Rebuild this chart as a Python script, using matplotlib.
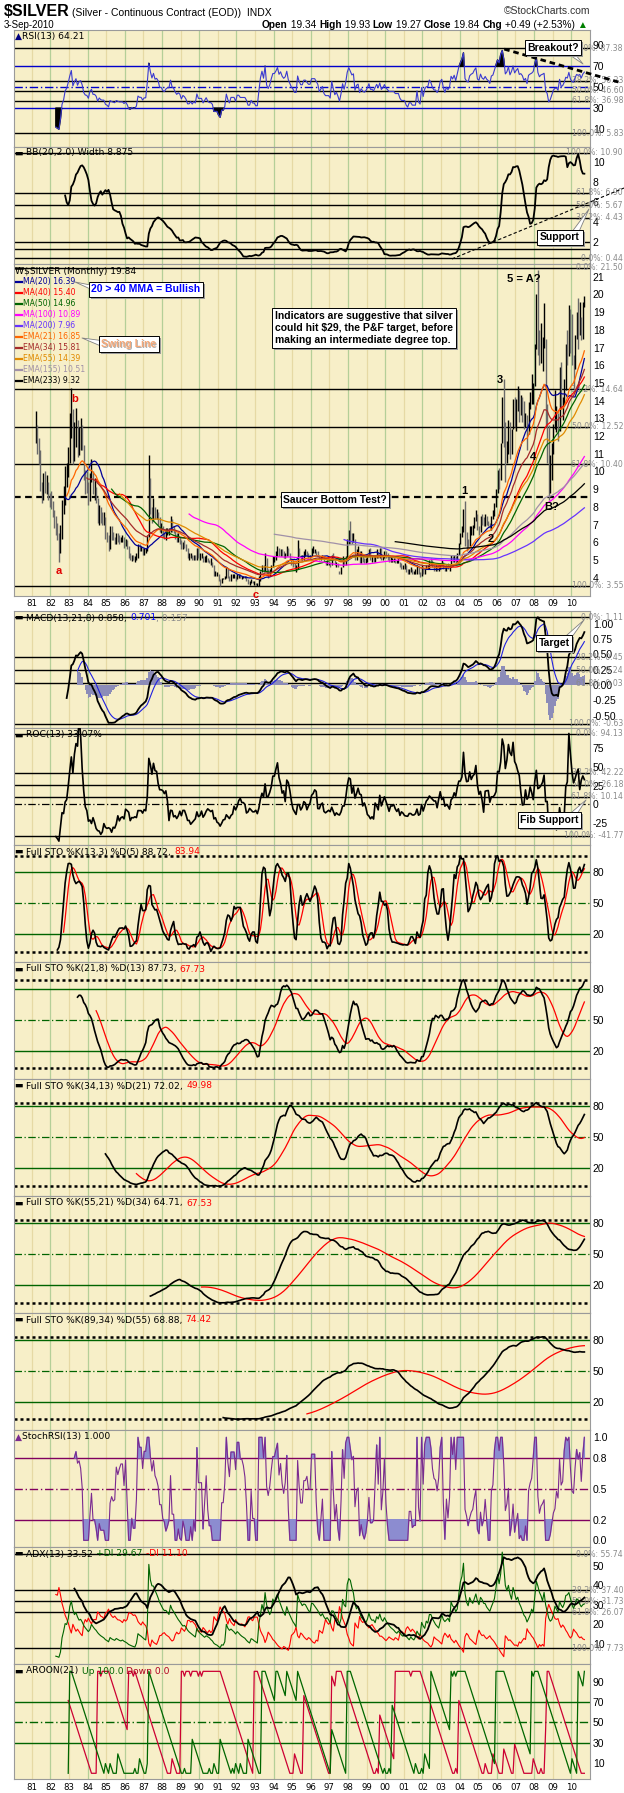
import numpy as np
import pandas as pd
import matplotlib
matplotlib.use("Agg")
import matplotlib.pyplot as plt
from matplotlib.transforms import blended_transform_factory

W, H = 624, 1793
NARROW = ["Liberation Sans Narrow", "Liberation Sans", "DejaVu Sans"]
plt.rcParams["font.family"] = ["DejaVu Sans"]

# monthly bars for $SILVER, Mar 1981 .. Sep 2010
closes = [
    12.05, 11.55, 10.95, 9.10, 8.75, 9.45, 9.20, 9.30, 8.65, 8.35,
    8.20, 7.60, 7.00, 6.90, 6.30, 5.60, 6.40, 7.80, 8.30, 9.50, 9.90, 10.80,
    12.10, 13.40, 10.80, 11.70, 12.50, 11.20, 12.10, 12.30, 11.50, 9.80, 9.20, 9.10,
    8.40, 9.60, 10.00, 8.90, 8.90, 8.50, 7.30, 7.80, 7.40, 7.30, 7.30, 6.40,
    6.20, 5.80, 6.50, 6.30, 6.20, 6.10, 6.30, 6.20, 6.10, 6.10, 6.10, 5.90,
    6.00, 5.70, 5.20, 5.10, 5.20, 5.10, 5.10, 5.20, 5.70, 5.60, 5.60, 5.40,
    5.50, 5.50, 6.30, 8.40, 7.80, 7.30, 7.90, 7.40, 7.50, 7.30, 6.70, 6.70,
    6.40, 6.30, 6.50, 6.60, 6.60, 7.20, 6.70, 6.60, 6.30, 6.10, 6.20, 6.10,
    5.70, 5.90, 5.80, 5.60, 5.20, 5.20, 5.30, 5.10, 5.20, 5.10, 5.50, 5.20,
    5.20, 5.20, 4.90, 5.00, 5.10, 4.90, 4.80, 4.80, 4.70, 4.20, 4.20, 4.20,
    3.90, 3.70, 3.90, 3.90, 4.00, 4.40, 4.10, 3.90, 4.10, 4.10, 4.10, 3.90,
    4.10, 4.10, 4.00, 4.00, 4.00, 4.00, 3.90, 3.70, 3.70, 3.80, 3.70, 3.70,
    3.60, 3.60, 3.90, 4.30, 4.60, 4.40, 5.10, 4.30, 4.10, 4.30, 4.70, 5.10,
    5.10, 5.30, 5.60, 5.30, 5.50, 5.30, 5.20, 5.30, 5.70, 5.30, 5.10, 4.90,
    4.80, 4.60, 4.60, 5.60, 5.30, 5.10, 5.10, 5.40, 5.40, 5.30, 5.20, 5.20,
    5.50, 5.50, 5.50, 5.40, 5.30, 5.00, 5.10, 5.20, 4.90, 4.80, 4.80, 4.80,
    4.70, 5.30, 5.00, 4.70, 4.80, 4.60, 4.30, 4.60, 5.10, 4.80, 5.20, 6.00,
    6.50, 6.30, 6.10, 6.20, 5.10, 5.50, 5.60, 4.90, 5.20, 5.00, 4.90, 5.00,
    5.20, 5.50, 5.10, 5.10, 5.00, 5.20, 5.40, 5.20, 5.50, 5.10, 5.20, 5.40,
    5.20, 5.10, 5.00, 5.00, 5.00, 5.00, 4.90, 4.90, 4.90, 4.70, 4.60, 4.60,
    4.60, 4.40, 4.30, 4.40, 4.40, 4.30, 4.30, 4.30, 4.60, 4.20, 4.10, 4.60,
    4.20, 4.50, 4.60, 4.60, 4.90, 4.80, 4.60, 4.50, 4.50, 4.40, 4.50, 4.80,
    4.90, 4.60, 4.40, 4.60, 4.50, 4.60, 5.10, 5.00, 5.20, 5.00, 5.40, 5.90,
    6.30, 6.70, 7.80, 6.20, 6.00, 5.90, 6.60, 6.80, 6.90, 7.30, 7.60, 6.80,
    6.70, 7.40, 7.10, 7.00, 7.30, 7.10, 7.00, 6.80, 7.50, 7.60, 8.20, 8.90,
    9.80, 9.60, 11.60, 13.30, 12.50, 10.80, 11.30, 12.60, 11.50, 12.40, 13.90, 12.90,
    13.60, 14.20, 13.30, 13.50, 13.20, 12.50, 12.90, 12.10, 13.90, 14.20, 14.40, 14.80,
    16.90, 19.80, 17.20, 16.30, 16.90, 17.10, 17.40, 13.40, 12.60, 9.50, 10.10, 11.30,
    12.50, 13.00, 13.10, 12.50, 15.60, 13.60, 13.90, 14.90, 16.60, 16.40, 18.50, 16.90,
    16.20, 16.10, 17.50, 18.60, 18.40, 18.70, 18.00, 19.20, 19.84,
]
highs = [
    13.40, 12.60, 11.90, 11.20, 9.40, 9.90, 10.00, 9.80, 9.40, 8.80,
    8.90, 8.30, 7.80, 7.50, 7.10, 6.50, 7.00, 8.40, 9.20, 10.30, 10.50, 11.40,
    13.30, 14.70, 13.50, 12.80, 13.60, 12.90, 12.50, 13.00, 12.60, 11.50, 10.10, 10.00,
    9.40, 9.90, 10.70, 10.00, 9.60, 9.10, 8.50, 8.10, 8.00, 7.70, 7.70, 7.40,
    6.60, 6.40, 6.90, 6.90, 6.60, 6.30, 6.50, 6.50, 6.40, 6.30, 6.40, 6.30,
    6.20, 6.10, 5.80, 5.40, 5.30, 5.30, 5.20, 5.40, 5.90, 5.90, 5.80, 5.70,
    5.70, 5.70, 6.40, 10.90, 9.60, 8.00, 8.50, 8.00, 7.90, 7.70, 7.40, 7.10,
    6.90, 6.60, 6.80, 6.80, 6.80, 7.50, 7.30, 6.90, 6.70, 6.50, 6.50, 6.30,
    6.10, 6.00, 6.10, 5.90, 5.70, 5.40, 5.40, 5.30, 5.30, 5.30, 5.70, 5.70,
    5.40, 5.40, 5.20, 5.20, 5.30, 5.10, 5.00, 5.10, 4.90, 4.70, 4.40, 4.30,
    4.20, 3.90, 4.00, 4.00, 4.10, 4.60, 4.50, 4.10, 4.20, 4.20, 4.20, 4.10,
    4.20, 4.20, 4.20, 4.10, 4.10, 4.10, 4.10, 3.90, 3.80, 3.90, 3.80, 3.80,
    3.70, 3.70, 4.10, 4.40, 4.70, 4.70, 5.40, 5.10, 4.50, 4.50, 4.70, 5.20,
    5.20, 5.50, 5.80, 5.70, 5.60, 5.60, 5.50, 5.40, 5.80, 5.70, 5.40, 5.10,
    5.00, 4.80, 4.70, 6.10, 5.70, 5.30, 5.30, 5.50, 5.60, 5.50, 5.40, 5.30,
    5.70, 5.80, 5.60, 5.50, 5.50, 5.30, 5.20, 5.30, 5.20, 4.90, 5.00, 4.90,
    4.90, 5.30, 5.40, 5.00, 4.90, 4.80, 4.40, 4.60, 5.20, 5.10, 5.20, 6.20,
    6.70, 7.20, 6.50, 6.50, 6.20, 5.60, 5.80, 5.50, 5.50, 5.20, 5.10, 5.10,
    5.30, 5.60, 5.70, 5.20, 5.30, 5.30, 5.60, 5.40, 5.70, 5.70, 5.30, 5.50,
    5.50, 5.40, 5.20, 5.20, 5.10, 5.10, 5.10, 5.00, 5.10, 4.90, 4.80, 4.70,
    4.80, 4.70, 4.50, 4.50, 4.60, 4.50, 4.40, 4.50, 4.70, 4.60, 4.30, 4.70,
    4.60, 4.50, 4.70, 4.70, 5.00, 5.10, 5.00, 4.70, 4.70, 4.60, 4.60, 4.80,
    5.00, 4.90, 4.60, 4.70, 4.80, 4.70, 5.30, 5.20, 5.30, 5.20, 5.40, 5.96,
    6.50, 6.90, 7.90, 8.30, 6.60, 6.20, 6.90, 6.90, 7.00, 7.40, 7.80, 7.60,
    6.90, 7.50, 7.60, 7.40, 7.60, 7.50, 7.20, 7.10, 7.50, 7.80, 8.20, 9.00,
    10.10, 10.20, 11.60, 14.20, 15.20, 12.80, 11.70, 12.90, 12.80, 12.40, 14.10, 14.20,
    14.10, 14.80, 14.60, 14.30, 14.20, 14.00, 13.30, 13.20, 13.90, 14.50, 15.50, 15.00,
    17.20, 20.00, 21.40, 18.00, 18.40, 17.60, 19.50, 17.50, 13.80, 12.60, 10.90, 11.60,
    12.70, 14.60, 13.70, 13.30, 15.90, 16.20, 14.20, 15.20, 17.20, 18.00, 19.40, 19.20,
    18.90, 16.60, 17.70, 19.00, 19.80, 19.60, 18.70, 19.60, 19.93,
]
lows = [
    11.60, 11.00, 10.40, 8.90, 8.20, 8.40, 8.80, 8.70, 8.40, 8.00,
    7.90, 7.40, 6.80, 6.40, 6.10, 4.90, 5.40, 6.20, 7.60, 8.10, 9.10, 9.70,
    10.50, 11.90, 10.40, 10.60, 11.40, 10.80, 10.90, 11.20, 11.20, 9.50, 8.70, 8.80,
    8.10, 8.30, 9.40, 8.70, 8.40, 8.20, 7.10, 7.00, 7.10, 7.00, 7.00, 6.20,
    6.00, 5.50, 5.60, 6.10, 6.10, 5.90, 5.90, 6.00, 5.90, 6.00, 6.00, 5.70,
    5.80, 5.60, 5.10, 5.00, 4.95, 5.00, 4.90, 5.00, 5.10, 5.50, 5.50, 5.30,
    5.30, 5.40, 5.50, 6.30, 7.60, 7.10, 7.20, 7.30, 7.30, 7.00, 6.60, 6.50,
    6.30, 6.20, 6.10, 6.40, 6.40, 6.60, 6.60, 6.50, 6.20, 6.00, 6.00, 5.90,
    5.60, 5.60, 5.70, 5.50, 5.10, 5.00, 5.10, 5.00, 5.00, 5.00, 5.00, 5.10,
    5.00, 5.10, 4.90, 4.90, 4.90, 4.90, 4.80, 4.70, 4.60, 4.10, 4.10, 4.10,
    3.80, 3.55, 3.70, 3.90, 3.90, 4.00, 4.00, 3.80, 3.80, 4.00, 4.00, 3.80,
    3.90, 4.00, 3.95, 3.90, 3.95, 3.95, 3.80, 3.65, 3.60, 3.70, 3.70, 3.60,
    3.56, 3.52, 3.55, 3.80, 4.30, 4.30, 4.40, 4.20, 3.95, 4.10, 4.30, 4.60,
    4.90, 5.00, 5.20, 5.20, 5.20, 5.20, 5.10, 5.10, 5.20, 5.20, 5.00, 4.70,
    4.60, 4.50, 4.30, 4.50, 5.20, 5.00, 5.00, 5.00, 5.20, 5.20, 5.10, 5.10,
    5.20, 5.40, 5.40, 5.30, 5.30, 5.00, 5.00, 5.10, 4.90, 4.70, 4.70, 4.70,
    4.60, 4.70, 5.00, 4.70, 4.60, 4.60, 4.20, 4.20, 4.60, 4.70, 4.70, 5.00,
    5.90, 5.90, 5.90, 6.00, 5.00, 5.00, 5.40, 4.80, 4.80, 4.90, 4.80, 4.80,
    4.90, 5.20, 5.00, 4.90, 4.90, 4.90, 5.10, 5.10, 5.10, 5.00, 5.00, 5.10,
    5.10, 5.00, 4.90, 4.90, 4.90, 4.90, 4.80, 4.80, 4.80, 4.60, 4.50, 4.50,
    4.50, 4.30, 4.20, 4.20, 4.30, 4.20, 4.20, 4.20, 4.20, 4.20, 4.05, 4.10,
    4.20, 4.20, 4.50, 4.50, 4.50, 4.70, 4.60, 4.40, 4.40, 4.40, 4.40, 4.50,
    4.70, 4.50, 4.40, 4.40, 4.50, 4.40, 4.60, 4.90, 4.90, 4.80, 4.90, 5.30,
    5.90, 6.30, 6.60, 5.80, 5.50, 5.70, 5.80, 6.40, 6.40, 6.80, 7.20, 6.70,
    6.40, 6.60, 7.00, 6.90, 6.90, 7.00, 6.90, 6.80, 6.70, 7.30, 7.50, 8.00,
    8.80, 9.00, 9.50, 11.60, 11.40, 9.40, 10.50, 11.00, 10.70, 11.00, 12.40, 12.50,
    12.30, 13.40, 12.80, 13.20, 12.80, 12.40, 12.50, 11.20, 12.10, 13.50, 13.80, 13.80,
    14.80, 16.90, 16.60, 16.00, 16.10, 15.70, 17.00, 12.50, 10.50, 8.40, 8.80, 9.50,
    11.00, 12.40, 12.20, 11.70, 12.30, 13.50, 12.90, 13.70, 14.60, 16.00, 16.50, 16.70,
    16.00, 14.70, 15.80, 17.50, 16.90, 17.70, 17.40, 17.50, 19.27,
]

year_ticks = list(range(1981, 2011))
year_labels = ["81", "82", "83", "84", "85", "86", "87", "88", "89", "90",
               "91", "92", "93", "94", "95", "96", "97", "98", "99", "00",
               "01", "02", "03", "04", "05", "06", "07", "08", "09", "10"]

rsi_fibs = [("0.0%", 87.38), ("38.2%", 56.23), ("50.0%", 46.60), ("61.8%", 36.98), ("100.0%", 5.83)]
bbw_fibs = [("100.0%", 10.90), ("61.8%", 6.90), ("50.0%", 5.67), ("38.2%", 4.43), ("0.0%", 0.44)]
price_fibs = [("0.0%", 21.50), ("38.2%", 14.64), ("50.0%", 12.52), ("61.8%", 10.40), ("100.0%", 3.55)]
macd_fibs = [("0.0%", 1.11), ("38.2%", 0.45), ("50.0%", 0.24), ("61.8%", 0.03), ("100.0%", -0.63)]
roc_fibs = [("0.0%", 94.13), ("38.2%", 42.22), ("50.0%", 26.18), ("61.8%", 10.14), ("100.0%", -41.77)]
adx_fibs = [("0.0%", 55.74), ("38.2%", 37.40), ("50.0%", 31.73), ("61.8%", 26.07), ("100.0%", 7.73)]

ma_periods = [20, 40, 50, 100, 200]
ema_periods = [21, 34, 55, 155, 233]
ma_legend = ["MA(20) 16.39", "MA(40) 15.40", "MA(50) 14.96", "MA(100) 10.89", "MA(200) 7.96",
             "EMA(21) 16.85", "EMA(34) 15.81", "EMA(55) 14.39", "EMA(155) 10.51", "EMA(233) 9.32"]
ma_colors = ["#000099", "#ff0000", "#006400", "#ff00ff", "#6633ff",
             "#ff6600", "#a52a2a", "#e08a00", "#a090a8", "#000000"]

sto_params = [(13, 3, 5), (21, 8, 13), (34, 13, 21), (55, 21, 34), (89, 34, 55)]
sto_values = [("88.72", "83.94"), ("87.73", "67.73"), ("72.02", "49.98"),
              ("64.71", "67.53"), ("68.88", "74.42")]


# ---------- indicator helpers ----------
def sma(x, n):
    return pd.Series(x).rolling(n).mean().to_numpy()


def smooth(x, n, k):
    x = np.asarray(x, float)
    out = np.full(len(x), np.nan)
    idx = np.where(~np.isnan(x))[0]
    if len(idx) < n:
        return out
    s = idx[0]
    out[s + n - 1] = np.mean(x[s:s + n])
    for i in range(s + n, len(x)):
        out[i] = x[i] * k + out[i - 1] * (1 - k)
    return out


def ema(x, n):
    return smooth(x, n, 2.0 / (n + 1))


def wilder(x, n):
    return smooth(x, n, 1.0 / n)


def rsi(c, n):
    d = np.diff(c, prepend=np.nan)
    up = np.where(d > 0, d, 0.0)
    dn = np.where(d < 0, -d, 0.0)
    up[0] = dn[0] = np.nan
    with np.errstate(divide="ignore", invalid="ignore"):
        return 100 - 100 / (1 + wilder(up, n) / wilder(dn, n))


def full_sto(h, l, c, k, s, d):
    hh = pd.Series(h).rolling(k).max()
    ll = pd.Series(l).rolling(k).min()
    raw = 100 * (pd.Series(c) - ll) / (hh - ll)
    fk = raw.rolling(s).mean()
    fd = fk.rolling(d).mean()
    return fk.to_numpy(), fd.to_numpy()


def adx(h, l, c, n):
    pc = np.r_[np.nan, c[:-1]]
    ph = np.r_[np.nan, h[:-1]]
    pl = np.r_[np.nan, l[:-1]]
    tr = np.nanmax(np.vstack([h - l, np.abs(h - pc), np.abs(l - pc)]), axis=0)
    up = h - ph
    dn = pl - l
    pdm = np.where((up > dn) & (up > 0), up, 0.0)
    mdm = np.where((dn > up) & (dn > 0), dn, 0.0)
    tr[0] = pdm[0] = mdm[0] = np.nan
    atr = wilder(tr, n)
    pdi = 100 * wilder(pdm, n) / atr
    mdi = 100 * wilder(mdm, n) / atr
    dx = 100 * np.abs(pdi - mdi) / (pdi + mdi)
    return wilder(dx, n), pdi, mdi


def aroon(h, l, n):
    up = np.full(len(h), np.nan)
    dn = np.full(len(h), np.nan)
    for i in range(n, len(h)):
        wh = h[i - n:i + 1][::-1]
        wl = l[i - n:i + 1][::-1]
        up[i] = 100.0 * (n - np.argmax(wh)) / n
        dn[i] = 100.0 * (n - np.argmin(wl)) / n
    return up, dn


c = np.array(closes)
h = np.array(highs)
l = np.array(lows)
t = 1981 + (2 + np.arange(len(c)) + 0.5) / 12

rsi13 = rsi(c, 13)
bbw = 4 * pd.Series(c).rolling(20).std(ddof=0).to_numpy()
macd = ema(c, 13) - ema(c, 21)
macd_sig = ema(macd, 8)
macd_hist = macd - macd_sig
roc13 = 100 * (c / np.r_[np.full(13, np.nan), c[:-13]] - 1)
rr = pd.Series(rsi13)
srsi = ((rr - rr.rolling(13).min()) / (rr.rolling(13).max() - rr.rolling(13).min())).to_numpy()
adx13, pdi13, mdi13 = adx(h, l, c, 13)
aup, adn = aroon(h, l, 21)

# ---------- figure / layout ----------
fig = plt.figure(figsize=(W / 100, H / 100), dpi=100)
fig.patch.set_facecolor("white")
LPX, RPX = 14, 590


def yr2px(y):
    return 31.8 + 18.6 * (y - 1981)


X0 = 1981 + (LPX - 31.8) / 18.6
X1 = 1981 + (RPX - 31.8) / 18.6
BG = "#f7efc8"


def panel(top, bot, ylim, ticks, labels):
    ax = fig.add_axes([LPX / W, 1 - bot / H, (RPX - LPX) / W, (bot - top) / H])
    ax.set_xlim(X0, X1)
    ax.set_ylim(*ylim)
    ax.set_facecolor(BG)
    for yr in year_ticks:
        ax.axvline(yr, color="#b4cf98" if yr % 2 == 0 else "#e6d9a4", lw=0.9, zorder=0)
    ax.set_xticks([])
    ax.yaxis.tick_right()
    ax.set_yticks(ticks)
    ax.set_yticklabels(labels)
    ax.tick_params(axis="y", length=0, pad=2, labelsize=7.5, labelfontfamily=NARROW)
    for s in ax.spines.values():
        s.set_color("#9a9a9a")
        s.set_linewidth(0.8)
    return ax


def fibs(ax, levels):
    tr = blended_transform_factory(fig.transFigure, ax.transData)
    for pct, v in levels:
        ax.axhline(v, color="black", lw=1.0, zorder=1)
        ax.text(623 / W, v, f"{pct}: {v:.2f}", transform=tr, ha="right", va="center",
                fontsize=5.6, color="#8a8a8a", clip_on=False)


ax_rsi = panel(30, 147, (-7.3, 104.8), [90, 70, 50, 30, 10], ["90", "70", "50", "30", "10"])
ax_bbw = panel(147, 264, (-0.15, 11.46), [10, 8, 6, 4, 2], ["10", "8", "6", "4", "2"])
ax_px = panel(264, 596, (2.96, 21.72), list(range(4, 22)), [str(v) for v in range(4, 22)])
ax_macd = panel(611, 728, (-0.703, 1.209), [1.0, 0.75, 0.5, 0.25, 0.0, -0.25, -0.5],
                ["1.00", "0.75", "0.50", "0.25", "0.00", "-0.25", "-0.50"])
ax_roc = panel(728, 845, (-54, 102), [75, 50, 25, 0, -25], ["75", "50", "25", "0", "-25"])
sto_axes = [panel(845 + 117 * i, 962 + 117 * i, (-6.8, 106.4), [80, 50, 20], ["80", "50", "20"])
            for i in range(5)]
ax_srsi = panel(1430, 1547, (-0.065, 1.071), [1.0, 0.8, 0.5, 0.2, 0.0],
                ["1.0", "0.8", "0.5", "0.2", "0.0"])
ax_adx = panel(1547, 1664, (-0.29, 59.47), [50, 40, 30, 20, 10], ["50", "40", "30", "20", "10"])
ax_ar = panel(1664, 1779, (-5.6, 107.2), [90, 70, 50, 30, 10], ["90", "70", "50", "30", "10"])

# RSI
fibs(ax_rsi, rsi_fibs)
for v, ls in [(70, "-"), (30, "-"), (50, (0, (6, 2, 1, 2)))]:
    ax_rsi.axhline(v, color="#0000cc", lw=1.0, ls=ls, zorder=1)
ax_rsi.plot(t, rsi13, color="#3a3ad0", lw=0.8, zorder=3)
ax_rsi.fill_between(t, rsi13, 70, where=rsi13 >= 70, interpolate=True, color="black", zorder=2)
ax_rsi.fill_between(t, rsi13, 30, where=rsi13 <= 30, interpolate=True, color="black", zorder=2)
ax_rsi.plot([2006.4, 2012.73], [86.5, 54.0], color="black", lw=2.0, ls=(0, (2, 1.4)),
            clip_on=False, zorder=4)

# BB width
fibs(ax_bbw, bbw_fibs)
for v in (2.0, 1.35):
    ax_bbw.axhline(v, color="black", lw=1.0, zorder=1)
ax_bbw.plot(t, bbw, color="black", lw=1.3, zorder=3)
ax_bbw.plot([2003.59, 2012.84], [0.35, 7.39], color="black", lw=0.8, ls=(0, (3, 2)),
            clip_on=False, zorder=4)

# price
fibs(ax_px, price_fibs)
ax_px.axhline(8.55, color="black", lw=1.6, ls=(0, (3, 2)), zorder=1)
prev = np.r_[c[0], c[:-1]]
ax_px.vlines(t, l, h, colors=np.where(c >= prev, "#000000", "#6a6a6a"), lw=1.0, zorder=3)
for i, n in enumerate(ma_periods):
    ax_px.plot(t, sma(c, n), color=ma_colors[i], lw=0.9, zorder=4)
for i, n in enumerate(ema_periods):
    ax_px.plot(t, ema(c, n), color=ma_colors[5 + i], lw=0.9, zorder=4)

# MACD
fibs(ax_macd, macd_fibs)
ax_macd.bar(t, macd_hist, width=1 / 12, color="#8c8cb8", lw=0, zorder=2)
ax_macd.plot(t, macd_sig, color="#2020e0", lw=0.8, zorder=3)
ax_macd.plot(t, macd, color="black", lw=1.3, zorder=4)

# ROC
fibs(ax_roc, roc_fibs)
ax_roc.axhline(0, color="black", lw=0.9, ls=(0, (6, 2, 1, 2)), zorder=1)
ax_roc.plot(t, roc13, color="black", lw=1.2, zorder=3)

# full stochastics
for ax, (k, s, d) in zip(sto_axes, sto_params):
    fk, fd = full_sto(h, l, c, k, s, d)
    ax.axhline(80, color="#006400", lw=1.0, zorder=1)
    ax.axhline(20, color="#006400", lw=1.0, zorder=1)
    ax.axhline(50, color="#006400", lw=0.9, ls=(0, (6, 2, 1, 2)), zorder=1)
    hi = np.nanmax(np.r_[fk, fd])
    lo = np.nanmin(np.r_[fk, fd])
    ax.axhline(hi, color="black", lw=1.8, ls=(0, (1.2, 1.2)), zorder=1)
    ax.axhline(lo, color="black", lw=1.8, ls=(0, (1.2, 1.2)), zorder=1)
    ax.plot(t, fd, color="#ff0000", lw=0.9, zorder=3)
    ax.plot(t, fk, color="black", lw=1.2, zorder=4)

# StochRSI
for v, ls in [(0.8, "-"), (0.2, "-"), (0.5, (0, (6, 2, 1, 2)))]:
    ax_srsi.axhline(v, color="#800060", lw=1.0, ls=ls, zorder=1)
ax_srsi.fill_between(t, srsi, 0.8, where=srsi >= 0.8, interpolate=True, color="#8c8cd0", zorder=2)
ax_srsi.fill_between(t, srsi, 0.2, where=srsi <= 0.2, interpolate=True, color="#8c8cd0", zorder=2)
ax_srsi.plot(t, srsi, color="#7a2a90", lw=0.8, zorder=3)

# ADX
fibs(ax_adx, adx_fibs)
ax_adx.plot(t, mdi13, color="#ff0000", lw=0.8, zorder=3)
ax_adx.plot(t, pdi13, color="#006400", lw=0.8, zorder=3)
ax_adx.plot(t, adx13, color="black", lw=1.3, zorder=4)

# Aroon
for v, ls in [(70, "-"), (30, "-"), (50, (0, (6, 2, 1, 2)))]:
    ax_ar.axhline(v, color="#006400", lw=1.0, ls=ls, zorder=1)
ax_ar.plot(t, adn, color="#cc0033", lw=0.9, zorder=3)
ax_ar.plot(t, aup, color="#006600", lw=0.9, zorder=3)

# ---------- overlay for all text in pixel coords ----------
ov = fig.add_axes([0, 0, 1, 1], zorder=20)
ov.set_xlim(0, W)
ov.set_ylim(H, 0)
ov.axis("off")
ov.patch.set_visible(False)
rend = fig.canvas.get_renderer()


def parts_text(x, y, parts, size=6.6, family=None, right=False):
    texts = []
    for p in parts:
        s, col = p[0], p[1]
        wt = p[2] if len(p) > 2 else "normal"
        tx = ov.text(x, y, s, color=col, fontsize=size, ha="left", va="center",
                     fontweight=wt, family=family or ["DejaVu Sans"])
        texts.append(tx)
        x += tx.get_window_extent(rend).width
    if right:
        # shift the whole run so that it ends at the requested x
        shift = x - parts_start_right[0]
        for tx in texts:
            tx.set_x(tx.get_position()[0] - shift)
    return x


parts_start_right = [588]

# header
x = parts_text(4, 12, [("$SILVER", "black", "bold")], size=11.5, family=NARROW)
parts_text(x + 2, 13, [("(Silver - Continuous Contract (EOD))  INDX", "black")], size=7.5, family=NARROW)
ov.text(590, 11, "\u00a9StockCharts.com", ha="right", va="center", fontsize=7.5, family=NARROW,
        color="#333333")
ov.text(4, 25, "3-Sep-2010", ha="left", va="center", fontsize=7, family=NARROW)
parts_text(0, 25, [("Open", "black", "bold"), (" 19.34 ", "black"), ("High", "black", "bold"),
                   (" 19.93 ", "black"), ("Low", "black", "bold"), (" 19.27 ", "black"),
                   ("Close", "black", "bold"), (" 19.84 ", "black"), ("Chg", "black", "bold"),
                   (" +0.49 (+2.53%)", "black"), (" \u25b2", "#008000")],
           size=7.3, family=NARROW, right=True)


def callout(x, y, s, color="black", size=7.5, ha="center", tip=None, base=None):
    if tip is not None:
        ov.annotate("", xy=tip, xytext=base,
                    arrowprops=dict(arrowstyle="wedge,tail_width=0.45", fc="white",
                                    ec="#808080", lw=0.6, shrinkA=0, shrinkB=0))
    kw = dict(fontsize=size, ha=ha, va="center", fontweight="bold", family=NARROW,
              linespacing=1.25)
    ov.text(x + 2, y + 2, s, color="none",
            bbox=dict(fc="#9a9a9a", ec="none", boxstyle="square,pad=0.25"), **kw)
    ov.text(x, y, s, color=color,
            bbox=dict(fc="white", ec="black", lw=0.7, boxstyle="square,pad=0.25"), **kw)


# panel labels
parts_text(15, 36, [("\u25b2", "#000080"), ("RSI(13) 64.21", "black")])
parts_text(15, 153, [("\u25ac ", "black"), ("BB(20,2.0) Width 8.875", "black")])
parts_text(15, 271, [("\u20a9", "black"), ("$SILVER (Monthly) 19.84", "black")])
for i, (lab, col) in enumerate(zip(ma_legend, ma_colors)):
    yy = 281.7 + 11.03 * i
    ov.plot([16, 22], [yy, yy], color=col, lw=1.6)
    ov.text(23, yy, lab, color=col, fontsize=5.6, ha="left", va="center")
parts_text(15, 618, [("\u25ac ", "black"), ("MACD(13,21,8) 0.858, ", "black"), ("0.701", "#0000ff"),
                     (", 0.157", "#8a8a8a")])
parts_text(15, 735, [("\u25ac ", "black"), ("ROC(13) 33.07%", "black")])
for i, ((k, s, d), (kv, dv)) in enumerate(zip(sto_params, sto_values)):
    parts_text(15, 852 + 117 * i, [("\u25ac ", "black"),
                                   (f"Full STO %K({k},{s}) %D({d}) {kv}, ", "black"), (dv, "#ff0000")])
parts_text(15, 1437, [("\u25b2", "#7a2a90"), ("StochRSI(13) 1.000", "black")])
parts_text(15, 1554, [("\u25ac ", "black"), ("ADX(13) 33.52 ", "black"), ("+DI 29.67 ", "#006400"),
                      ("-DI 11.10", "#ff0000")])
parts_text(15, 1671, [("\u25ac ", "black"), ("AROON(21) ", "black"), ("Up 100.0 ", "#006400"),
                      ("Down 0.0", "#b00020")])

# x-axis year labels
for yr, lab in zip(year_ticks, year_labels):
    ov.text(yr2px(yr), 604, lab, ha="center", va="center", fontsize=6.2)
    ov.text(yr2px(yr), 1787, lab, ha="center", va="center", fontsize=6.2)

# wave labels on the price panel
for s, xx, yy, col in [("a", 58.7, 571, "#e00000"), ("b", 75, 399, "#e00000"), ("c", 256, 595, "#e00000"),
                       ("1", 464.7, 491, "black"), ("2", 491, 539, "black"), ("3", 499.7, 380, "black"),
                       ("4", 532.7, 457, "black"), ("5 = A?", 523.7, 278.5, "black"),
                       ("B?", 551.3, 507, "black")]:
    ov.text(xx, yy, s, color=col, fontsize=8, fontweight="bold", ha="center", va="center", family=NARROW)

# callout boxes
callout(146, 289.5, "20 > 40 MMA = Bullish", color="#0000ff", tip=(75, 282), base=(100, 290))
ov.annotate("", xy=(82, 338), xytext=(104, 344),
            arrowprops=dict(arrowstyle="wedge,tail_width=0.45", fc="white", ec="#808080", lw=0.6,
                            shrinkA=0, shrinkB=0))
ov.text(131, 346, "Swing Line", color="none", fontsize=7.5, ha="center", va="center", fontweight="bold",
        family=NARROW, bbox=dict(fc="#9a9a9a", ec="none", boxstyle="square,pad=0.25"))
ov.text(129, 344, "Swing Line", color="white", fontsize=7.5, ha="center", va="center", fontweight="bold",
        family=NARROW, bbox=dict(fc="white", ec="black", lw=0.7, boxstyle="square,pad=0.25"))
ov.text(130, 345, "Swing Line", color="#b0b0b0", fontsize=7.5, ha="center", va="center",
        fontweight="bold", family=NARROW)
ov.text(129, 344, "Swing Line", color="#f5a878", fontsize=7.5, ha="center", va="center",
        fontweight="bold", family=NARROW)
callout(275, 328, "Indicators are suggestive that silver\ncould hit $29, the P&F target, before\n"
        "making an intermediate degree top.", ha="left")
callout(335, 499.7, "Saucer Bottom Test?")
callout(553, 47.7, "Breakout?", tip=(583, 64), base=(568, 50))
callout(560, 237.3, "Support", tip=(589, 209), base=(575, 233))
callout(554, 643, "Target", tip=(584, 620), base=(566, 640))
callout(549.6, 820, "Fib Support", tip=(586, 800), base=(572, 816))

fig.savefig("out.png", dpi=100)
